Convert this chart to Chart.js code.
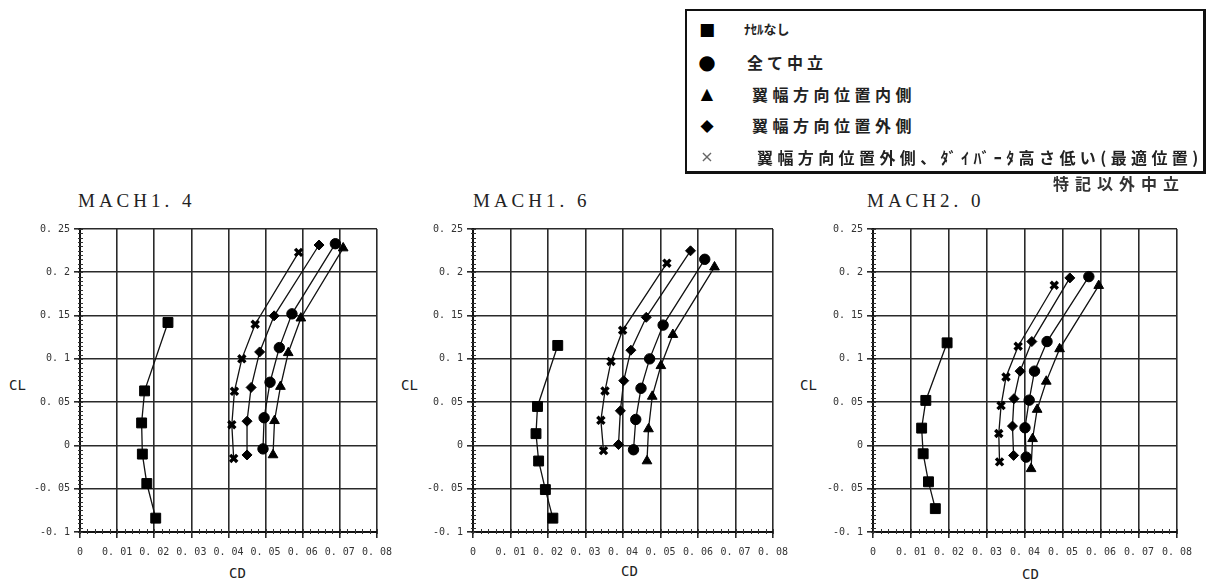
<!DOCTYPE html>
<html>
<head>
<meta charset="utf-8">
<script src="https://cdn.jsdelivr.net/npm/chart.js@4/dist/chart.umd.min.js"></script>
<style>
  body { margin: 0; width: 1209px; height: 585px; background: #fff; position: relative; overflow: hidden; }
  .abs { position: absolute; }
  canvas { position: absolute; }
  .title { font-family: "Liberation Serif", serif; font-size: 19px; letter-spacing: 4px; color: #222; }
  .axl { font-family: "DejaVu Sans Mono", monospace; font-size: 14px; color: #222; }
  #legend { left: 685px; top: 9px; width: 516px; height: 160px; border: 2px solid #111; border-right-width: 3px; border-bottom-width: 3px; background: #fff; }
  .lrow { position: absolute; left: 0; height: 30px; line-height: 30px; white-space: nowrap; font-family: "Noto Sans CJK JP", sans-serif; font-weight: bold; color: #222; }
  .mk { position: absolute; width: 20px; text-align: center; color: #000; font-family: "DejaVu Sans", sans-serif; }
  .lt { position: absolute; font-size: 16px; }
</style>
</head>
<body>
<div class="abs title" style="left:78px; top:190px;">MACH1. 4</div>
<div class="abs title" style="left:473px; top:190px;">MACH1. 6</div>
<div class="abs title" style="left:867px; top:190px;">MACH2. 0</div>

<div class="abs axl" style="left:9px; top:377px;">CL</div>
<div class="abs axl" style="left:401px; top:377px;">CL</div>
<div class="abs axl" style="left:800px; top:377px;">CL</div>
<div class="abs axl" style="left:229px; top:565px;">CD</div>
<div class="abs axl" style="left:621px; top:563px;">CD</div>
<div class="abs axl" style="left:1022px; top:566px;">CD</div>

<canvas id="c14" width="400" height="395" style="left:0px; top:190px;"></canvas>
<canvas id="c16" width="400" height="395" style="left:400px; top:190px;"></canvas>
<canvas id="c20" width="409" height="395" style="left:800px; top:190px;"></canvas>

<div id="legend" class="abs"></div>
<div class="abs" style="left:1053px; top:171px; font-family:'Noto Sans CJK JP',sans-serif; font-weight:bold; font-size:16px; letter-spacing:6px; color:#333;">特記以外中立</div>

<script>
// 凡例 / 系列名
const seriesLabels = ["ﾅｾﾙなし", "全て中立", "翼幅方向位置内側", "翼幅方向位置外側", "翼幅方向位置外側、ﾀﾞｲﾊﾞｰﾀ高さ低い(最適位置)"];
const machTitles = ["MACH1. 4", "MACH1. 6", "MACH2. 0"];

// 目盛
const xTickVals = [0, 0.01, 0.02, 0.03, 0.04, 0.05, 0.06, 0.07, 0.08];
const xTickLabels = ["0", "0. 01", "0. 02", "0. 03", "0. 04", "0. 05", "0. 06", "0. 07", "0. 08"];
const yTickVals = [-0.1, -0.05, 0, 0.05, 0.1, 0.15, 0.2, 0.25];
const yTickLabels = ["-0. 1", "-0. 05", "0", "0. 05", "0. 1", "0. 15", "0. 2", "0. 25"];

// [CD, CL]  MACH1.4
const m14None    = [[0.0237, 0.142], [0.0174, 0.063], [0.0166, 0.026], [0.0168, -0.010], [0.0180, -0.044], [0.0204, -0.084]];
const m14Neutral = [[0.0688, 0.233], [0.0571, 0.152], [0.0537, 0.113], [0.0512, 0.073], [0.0496, 0.032], [0.0493, -0.004]];
const m14Inner   = [[0.0709, 0.228], [0.0595, 0.147], [0.0561, 0.107], [0.0540, 0.068], [0.0524, 0.0285], [0.0520, -0.011]];
const m14Outer   = [[0.0644, 0.2315], [0.0523, 0.1497], [0.0484, 0.108], [0.0461, 0.067], [0.0450, 0.028], [0.0450, -0.011]];
const m14Best    = [[0.0589, 0.223], [0.0472, 0.140], [0.0436, 0.100], [0.0416, 0.0625], [0.0409, 0.024], [0.0414, -0.015]];

// MACH1.6
const m16None    = [[0.0226, 0.1155], [0.0172, 0.045], [0.0168, 0.0136], [0.0175, -0.018], [0.0193, -0.051], [0.0213, -0.084]];
const m16Neutral = [[0.0618, 0.215], [0.0507, 0.139], [0.0471, 0.100], [0.0448, 0.066], [0.0434, 0.030], [0.0428, -0.005]];
const m16Inner   = [[0.0644, 0.206], [0.0533, 0.128], [0.0501, 0.092], [0.0478, 0.0566], [0.0468, 0.019], [0.0464, -0.018]];
const m16Outer   = [[0.0580, 0.2248], [0.0462, 0.148], [0.0421, 0.110], [0.0402, 0.0748], [0.0393, 0.040], [0.0388, 0.001]];
const m16Best    = [[0.0517, 0.2105], [0.0399, 0.133], [0.0368, 0.097], [0.0352, 0.063], [0.0341, 0.029], [0.0348, -0.006]];

// MACH2.0
const m20None    = [[0.0195, 0.1185], [0.0139, 0.052], [0.0128, 0.020], [0.0132, -0.0096], [0.0146, -0.042], [0.0164, -0.073]];
const m20Neutral = [[0.0568, 0.195], [0.0458, 0.120], [0.0425, 0.0858], [0.0411, 0.0523], [0.0400, 0.0204], [0.0403, -0.0135]];
const m20Inner   = [[0.0594, 0.1846], [0.0491, 0.1115], [0.0456, 0.074], [0.0432, 0.0415], [0.0420, 0.0077], [0.0416, -0.027]];
const m20Outer   = [[0.0518, 0.1935], [0.0418, 0.120], [0.0387, 0.0858], [0.0371, 0.054], [0.0367, 0.0223], [0.0370, -0.0115]];
const m20Best    = [[0.0477, 0.185], [0.0382, 0.1146], [0.0350, 0.079], [0.0337, 0.046], [0.0331, 0.0138], [0.0333, -0.019]];

const markers = [
  { pointStyle: "rect", radius: 7, borderWidth: 1 },
  { pointStyle: "circle", radius: 5.2, borderWidth: 1 },
  { pointStyle: "triangle", radius: 5.6, borderWidth: 1 },
  { pointStyle: "rectRot", radius: 5, borderWidth: 1 },
  { pointStyle: "crossRot", radius: 5, borderWidth: 3.4 },
];

// 副目盛（内向き）
const minorTicks = {
  id: "minorTicks",
  beforeDatasetsDraw(chart) {
    const { ctx, chartArea, scales } = chart;
    ctx.save();
    ctx.strokeStyle = "#333";
    ctx.lineWidth = 1;
    ctx.beginPath();
    for (let i = 0; i <= 40; i++) {
      const px = Math.round(scales.x.getPixelForValue(i * 0.002)) + 0.5;
      ctx.moveTo(px, chartArea.bottom - 3);
      ctx.lineTo(px, chartArea.bottom + 2);
    }
    for (let i = 0; i <= 70; i++) {
      const py = Math.round(scales.y.getPixelForValue(-0.1 + i * 0.005)) + 0.5;
      ctx.moveTo(chartArea.left - 2, py);
      ctx.lineTo(chartArea.left + 3, py);
    }
    ctx.stroke();
    ctx.restore();
  },
};

function makeChart(id, seriesList, yAxisWidth, padRight) {
  const datasets = seriesList.map((pts, i) => ({
    label: seriesLabels[i],
    data: pts.map((p) => ({ x: p[0], y: p[1] })),
    showLine: true,
    borderColor: "#111",
    borderWidth: 1.3,
    backgroundColor: "#000",
    pointBackgroundColor: "#000",
    pointBorderColor: "#000",
    pointStyle: markers[i].pointStyle,
    pointRadius: markers[i].radius,
    pointBorderWidth: markers[i].borderWidth,
  }));
  const tickFont = { family: "DejaVu Sans Mono", size: 10 };
  return new Chart(document.getElementById(id), {
    type: "scatter",
    data: { datasets },
    options: {
      responsive: false,
      animation: false,
      layout: { padding: { top: 39, right: padRight, left: 0, bottom: 0 } },
      plugins: { legend: { display: false }, tooltip: { enabled: false } },
      scales: {
        x: {
          type: "linear",
          min: 0,
          max: 0.08,
          afterBuildTicks: (s) => { s.ticks = xTickVals.map((v) => ({ value: v })); },
          afterFit: (s) => { s.height = 53; },
          ticks: { font: tickFont, color: "#333", padding: 8, maxRotation: 0, autoSkip: false,
            callback: (v, i) => xTickLabels[i] },
          grid: { color: "#2a2a2a", lineWidth: 1.6, tickLength: 6, tickColor: "#2a2a2a" },
          border: { color: "#111", width: 2 },
        },
        y: {
          type: "linear",
          min: -0.1,
          max: 0.25,
          afterBuildTicks: (s) => { s.ticks = yTickVals.map((v) => ({ value: v })); },
          afterFit: (s) => { s.width = yAxisWidth; },
          ticks: { font: tickFont, color: "#333", padding: 4, autoSkip: false,
            callback: (v, i) => yTickLabels[i] },
          grid: { color: "#2a2a2a", lineWidth: 1.6, tickLength: 6, tickColor: "#2a2a2a" },
          border: { color: "#111", width: 2 },
        },
      },
    },
    plugins: [minorTicks],
  });
}

makeChart("c14", [m14None, m14Neutral, m14Inner, m14Outer, m14Best], 80, 19);
makeChart("c16", [m16None, m16Neutral, m16Inner, m16Outer, m16Best], 73, 27);
makeChart("c20", [m20None, m20Neutral, m20Inner, m20Outer, m20Best], 73, 32);

// 凡例
const legendMarks = ["■", "●", "▲", "◆", "×"];
const legendMarkSize = [17, 20, 16, 17, 16];
const legendRowTop = [3, 36, 68, 99, 131];
const legendTextLeft = [57, 60, 65, 65, 70];
const legendTextSize = [13, 16, 16, 16, 16];
const legendSpacing = ["0px", "4px", "4.5px", "4.5px", "4.4px"];
const legendBox = document.getElementById("legend");
seriesLabels.forEach((label, i) => {
  const row = document.createElement("div");
  row.className = "lrow";
  row.style.top = legendRowTop[i] + "px";
  row.style.width = "500px";
  const mk = document.createElement("span");
  mk.className = "mk";
  mk.style.left = "10px";
  mk.style.fontSize = legendMarkSize[i] + "px";
  if (i === 4) { mk.style.color = "#666"; mk.style.fontWeight = "normal"; }
  mk.textContent = legendMarks[i];
  const tx = document.createElement("span");
  tx.className = "lt";
  tx.style.left = legendTextLeft[i] + "px";
  tx.style.fontSize = legendTextSize[i] + "px";
  tx.style.letterSpacing = legendSpacing[i];
  tx.textContent = label;
  row.appendChild(mk);
  row.appendChild(tx);
  legendBox.appendChild(row);
});
</script>
</body>
</html>
